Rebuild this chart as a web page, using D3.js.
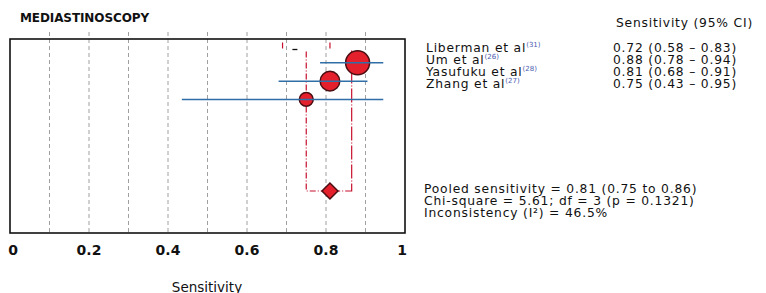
<!DOCTYPE html>
<html>
<head>
<meta charset="utf-8">
<script src="https://cdn.jsdelivr.net/npm/d3@7"></script>
<style>
  body { margin: 0; background: #fff; }
  text { font-family: "DejaVu Sans", Verdana, sans-serif; fill: #111; }
</style>
</head>
<body>
<div id="chart"></div>
<script>
// Study data
let studies = ['Liberman et al', 'Um et al', 'Yasufuku et al', 'Zhang et al']
let refs = ['31', '26', '28', '27']
let ciLabels = ['0.72 (0.58 \u2013 0.83)', '0.88 (0.78 \u2013 0.94)', '0.81 (0.68 \u2013 0.91)', '0.75 (0.43 \u2013 0.95)']

// Marks as drawn in the plot (first row only shows stray ticks)
let plotted = [
    { study: 'Um et al', est: 0.88, lo: 0.785, hi: 0.945, weight: 3 },
    { study: 'Yasufuku et al', est: 0.81, lo: 0.68, hi: 0.905, weight: 2 },
    { study: 'Zhang et al', est: 0.75, lo: 0.435, hi: 0.945, weight: 1 }
]
let strayRed = [0.69, 0.81]
let strayBlack = 0.72

// Pooled estimate
let pooled = { est: 0.81, lo: 0.75, hi: 0.865 }
let pooledText = ['Pooled sensitivity = 0.81 (0.75 to 0.86)', 'Chi-square = 5.61; df = 3 (p = 0.1321)', 'Inconsistency (I\u00b2) = 46.5%']

let ticks = [0, 0.2, 0.4, 0.6, 0.8, 1]
let grid = [0.1, 0.2, 0.3, 0.4, 0.5, 0.6, 0.7, 0.8, 0.9]

let svgWidth = 766, svgHeight = 293
let box = { left: 10, right: 405, top: 39, bottom: 233 }

let svg = d3.select('#chart').append('svg')
    .attr('width', svgWidth)
    .attr('height', svgHeight)

let x = d3.scaleLinear().domain([0, 1]).range([box.left, box.right])
let rows = studies.concat(['g1', 'g2', 'g3', 'g4', 'Pooled'])
let y = d3.scalePoint().domain(rows).range([44.5, 191])
let r = d3.scaleSqrt().domain([0, 3]).range([0, 12])

// Title
svg.append('text')
    .attr('x', 20).attr('y', 22)
    .attr('font-size', 12).attr('font-weight', 'bold')
    .attr('letter-spacing', -0.1)
    .text('MEDIASTINOSCOPY')

// Gridlines
svg.append('g').selectAll('line').data(grid).join('line')
    .attr('x1', d => x(d)).attr('x2', d => x(d))
    .attr('y1', box.top - 7).attr('y2', box.bottom)
    .attr('stroke', '#a0a0a0')
    .attr('stroke-dasharray', '4,3')

// Frame
svg.append('rect')
    .attr('x', box.left).attr('y', box.top)
    .attr('width', box.right - box.left).attr('height', box.bottom - box.top)
    .attr('fill', 'none').attr('stroke', '#111').attr('stroke-width', 1.6)

// Pooled CI guides
let red = '#c8102e'
svg.append('path')
    .attr('d', `M${x(pooled.lo)},${y(studies[0]) + 7}V${y('Pooled')}H${x(pooled.est)}`)
    .attr('fill', 'none').attr('stroke', red).attr('stroke-width', 1.2)
    .attr('stroke-dasharray', '6,2,1,2')
svg.append('path')
    .attr('d', `M${x(pooled.hi)},${y(studies[0]) + 6}V${y('Pooled')}H${x(pooled.est)}`)
    .attr('fill', 'none').attr('stroke', red).attr('stroke-width', 1.2)
    .attr('stroke-dasharray', '14,2,1,2')

// Stray marks on first row
svg.append('g').selectAll('line').data(strayRed).join('line')
    .attr('x1', d => x(d)).attr('x2', d => x(d))
    .attr('y1', y(studies[0]) - 2).attr('y2', y(studies[0]) + 4)
    .attr('stroke', red).attr('stroke-width', 1.2)
svg.append('line')
    .attr('x1', x(strayBlack) - 2).attr('x2', x(strayBlack) + 3)
    .attr('y1', y(studies[0]) + 5).attr('y2', y(studies[0]) + 5)
    .attr('stroke', '#111').attr('stroke-width', 1.3)

// Study circles and CI lines
svg.append('g').selectAll('circle').data(plotted).join('circle')
    .attr('cx', d => x(d.est)).attr('cy', d => y(d.study))
    .attr('r', d => r(d.weight))
    .attr('fill', '#e3202b').attr('stroke', '#4a0e12').attr('stroke-width', 1.5)
svg.append('g').selectAll('line').data(plotted).join('line')
    .attr('x1', d => x(d.lo)).attr('x2', d => x(d.hi))
    .attr('y1', d => y(d.study)).attr('y2', d => y(d.study))
    .attr('stroke', '#2f6ea6').attr('stroke-width', 1.5)

// Pooled diamond
let dy = y('Pooled'), dx = x(pooled.est), dw = 8
svg.append('path')
    .attr('d', `M${dx - dw},${dy}L${dx},${dy - dw}L${dx + dw},${dy}L${dx},${dy + dw}Z`)
    .attr('fill', '#e3202b').attr('stroke', '#4a0e12').attr('stroke-width', 1.5)

// Axis tick labels
svg.append('g').selectAll('text').data(ticks).join('text')
    .attr('x', d => x(d) + (d === 0 ? 3 : d === 1 ? -3 : 0))
    .attr('y', 255)
    .attr('text-anchor', 'middle')
    .attr('font-size', 14).attr('font-weight', 'bold')
    .attr('fill', '#222')
    .text(d => d)

svg.append('text')
    .attr('x', 207).attr('y', 292)
    .attr('text-anchor', 'middle')
    .attr('font-size', 13.5)
    .text('Sensitivity')

// Right hand column
let fs = 12.3, ls = 0.8
svg.append('text')
    .attr('x', 616).attr('y', 26.5)
    .attr('font-size', fs).attr('letter-spacing', ls)
    .text('Sensitivity (95% CI)')

let lineY = d3.scaleLinear().domain([0, 1]).range([51.5, 63.5])
let names = svg.append('g').selectAll('text').data(studies).join('text')
    .attr('x', 426).attr('y', (d, i) => lineY(i))
    .attr('font-size', fs).attr('letter-spacing', ls)
    .text(d => d)
names.append('tspan')
    .attr('dy', -5).attr('font-size', 7).attr('letter-spacing', 0)
    .attr('fill', '#4a5bb0')
    .text((d, i) => '(' + refs[i] + ')')

svg.append('g').selectAll('text').data(ciLabels).join('text')
    .attr('x', 613).attr('y', (d, i) => lineY(i))
    .attr('font-size', fs).attr('letter-spacing', ls)
    .text(d => d)

let poolY = d3.scaleLinear().domain([0, 1]).range([192.5, 204.5])
svg.append('g').selectAll('text').data(pooledText).join('text')
    .attr('x', 424).attr('y', (d, i) => poolY(i))
    .attr('font-size', fs).attr('letter-spacing', ls)
    .text(d => d)
</script>
</body>
</html>
